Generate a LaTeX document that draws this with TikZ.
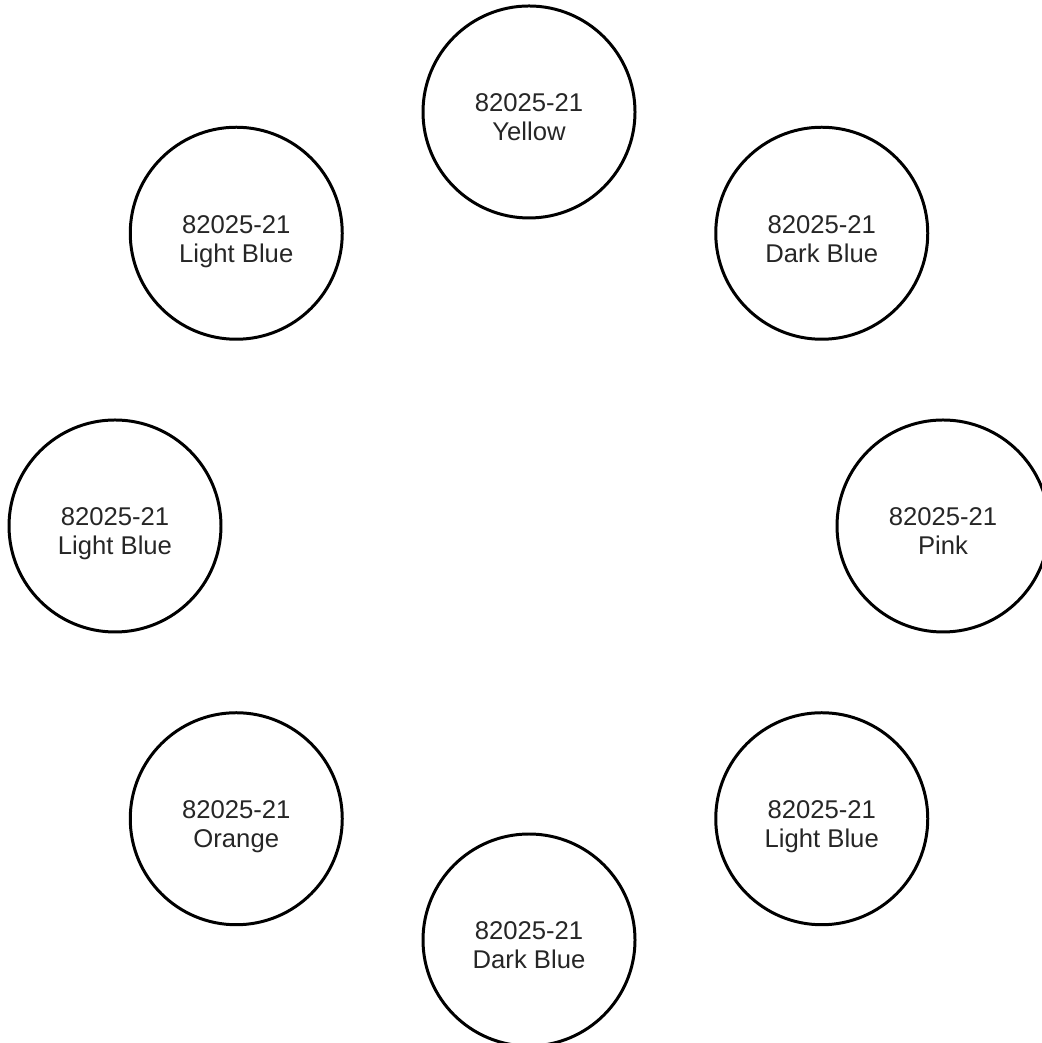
\documentclass[tikz,border=0pt]{standalone}
\usepackage{fontspec}
\setmainfont{Liberation Sans}
\usetikzlibrary{positioning}

\tikzset{
  spool/.style={draw=black, line width=0.85pt, circle, minimum size=2.12cm, inner sep=0pt},
  tag/.style={align=center, inner sep=0pt, text=black!85, yshift=-8.25pt,
    font=\fontsize{7.3}{8.25}\selectfont}
}

\begin{document}
\begin{tikzpicture}
  \useasboundingbox (0,0) rectangle (10.41,10.43);
  \coordinate (hub) at (5.29,5.17);
  % eight spools round the hub, starting at the top
  \foreach \ang/\name/\col in {90/top/Yellow, 45/upright/Dark Blue, 0/right/Pink,
      -45/lowright/Light Blue, -90/bottom/Dark Blue, -135/lowleft/Orange,
      180/left/Light Blue, 135/upleft/Light Blue}
  {
    \node[spool] (\name) at ([shift={(\ang:4.14)}]hub) {};
    \node[tag, anchor=base] (\name-txt) at (\name.center) {82025-21\\\col};
  }
\end{tikzpicture}
\end{document}
